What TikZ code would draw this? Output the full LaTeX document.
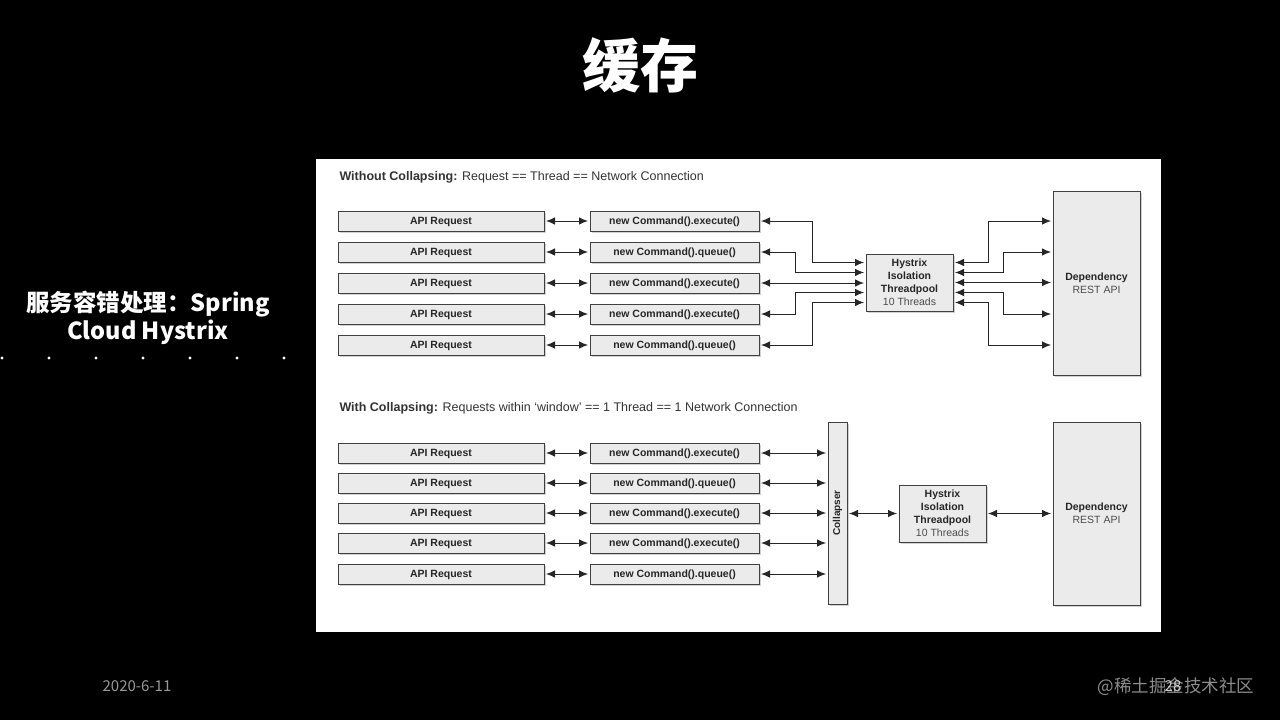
\documentclass[tikz,border=0pt]{standalone}
\usepackage{fontspec}
\setmainfont{Liberation Sans}
\newfontfamily\cjk{Noto Sans CJK SC}
\usetikzlibrary{arrows.meta,shadows}

\tikzset{
  box/.style={draw=black!75, fill=black!8, line width=1pt, inner sep=0pt,
    drop shadow={shadow xshift=1.5pt, shadow yshift=-2pt, opacity=0.35},
    font=\fontsize{10.5}{13}\selectfont\bfseries, text=black!85, align=center},
  req/.style={box, minimum width=206pt, minimum height=20pt, text height=7.5pt, text depth=0.5pt},
  cmd/.style={box, minimum width=169pt, minimum height=20pt, text height=7.5pt, text depth=0.5pt},
  pool/.style={box, minimum width=87pt, minimum height=57pt},
  link/.style={<->, >={Latex[length=9pt,width=7.5pt]}, line width=0.9pt, black!85,
    shorten <=1.5pt, shorten >=1.5pt},
  head/.style={anchor=west, font=\fontsize{12.5}{15}\selectfont, text=black!80},
}

\begin{document}
\begin{tikzpicture}[x=1pt,y=-1pt]
  \fill [black] (0,0) rectangle (1280,720);
  \useasboundingbox (0,0) rectangle (1280,720);
  \fill [white] (316,159) rectangle (1161,632);

  % slide texts
  \node [text=white, font=\cjk\bfseries\fontsize{58}{58}\selectfont] (title) at (640,65) {缓存};
  \node [text=white, align=center, font=\cjk\bfseries\fontsize{23.5}{28}\selectfont] (topic) at (148,318)
    {服务容错处理：Spring\\Cloud Hystrix};
  \foreach \x in {2,49,96,143,190,237,284}
    \fill [white] (\x,358) circle (1.6);
  \node [text=white!60!black, font=\cjk\fontsize{15}{15}\selectfont] (date) at (137,686) {2020-6-11};
  \node [anchor=east, text=white!55!black, font=\cjk\fontsize{17.5}{18}\selectfont] (site) at (1258,687) {@稀土掘金技术社区};
  \node [text=white!80!black, font=\cjk\fontsize{15}{15}\selectfont] (page) at (1173,686) {28};

  % without collapsing
  \node [head] (head1) at (336,177) {\textbf{Without Collapsing:} Request == Thread == Network Connection};
  \node [req] (req1) at (441,221) {API Request};
  \node [req] (req2) at (441,252) {API Request};
  \node [req] (req3) at (441,283) {API Request};
  \node [req] (req4) at (441,314) {API Request};
  \node [req] (req5) at (441,345) {API Request};
  \node [cmd] (cmd1) at (674.5,221) {new Command().execute()};
  \node [cmd] (cmd2) at (674.5,252) {new Command().queue()};
  \node [cmd] (cmd3) at (674.5,283) {new Command().execute()};
  \node [cmd] (cmd4) at (674.5,314) {new Command().execute()};
  \node [cmd] (cmd5) at (674.5,345) {new Command().queue()};
  \node [pool] (pool) at (909.5,282.5) {Hystrix\\Isolation\\Threadpool\\{\mdseries\color{black!70}10 Threads}};
  \node [box, minimum width=87pt, minimum height=184pt] (dep) at (1096.5,283)
    {Dependency\\{\mdseries\color{black!70}REST API}};

  \draw [link] (req1) -- (cmd1);
  \draw [link] (req2) -- (cmd2);
  \draw [link] (req3) -- (cmd3);
  \draw [link] (req4) -- (cmd4);
  \draw [link] (req5) -- (cmd5);
  \draw [link] (cmd1.east) -- ++(53,0) |- ([yshift=20pt]pool.west);
  \draw [link] (cmd2.east) -- ++(36,0) |- ([yshift=10pt]pool.west);
  \draw [link] (cmd3.east) -- (cmd3.east -| pool.west);
  \draw [link] (cmd4.east) -- ++(36,0) |- ([yshift=-10pt]pool.west);
  \draw [link] (cmd5.east) -- ++(53,0) |- ([yshift=-20pt]pool.west);
  \draw [link] ([yshift=20pt]pool.east) -- ++(35,0) |- (dep.west |- cmd1);
  \draw [link] ([yshift=10pt]pool.east) -- ++(50,0) |- (dep.west |- cmd2);
  \draw [link] (pool.east) -- (dep.west |- pool.east);
  \draw [link] ([yshift=-10pt]pool.east) -- ++(50,0) |- (dep.west |- cmd4);
  \draw [link] ([yshift=-20pt]pool.east) -- ++(35,0) |- (dep.west |- cmd5);

  % with collapsing
  \node [head] (head2) at (336,408) {\textbf{With Collapsing:} Requests within `window' == 1 Thread == 1 Network Connection};
  \node [req] (creq1) at (441,453) {API Request};
  \node [req] (creq2) at (441,483) {API Request};
  \node [req] (creq3) at (441,513) {API Request};
  \node [req] (creq4) at (441,543) {API Request};
  \node [req] (creq5) at (441,574) {API Request};
  \node [cmd] (ccmd1) at (674.5,453) {new Command().execute()};
  \node [cmd] (ccmd2) at (674.5,483) {new Command().queue()};
  \node [cmd] (ccmd3) at (674.5,513) {new Command().execute()};
  \node [cmd] (ccmd4) at (674.5,543) {new Command().execute()};
  \node [cmd] (ccmd5) at (674.5,574) {new Command().queue()};
  \node [box, minimum width=19pt, minimum height=182pt,
    label={[rotate=90, font=\fontsize{10}{12}\selectfont\bfseries, text=black!85]center:Collapser}]
    (collapser) at (837.5,513) {};
  \node [pool] (cpool) at (942.5,513.5) {Hystrix\\Isolation\\Threadpool\\{\mdseries\color{black!70}10 Threads}};
  \node [box, minimum width=87pt, minimum height=183pt] (cdep) at (1096.5,513.5)
    {Dependency\\{\mdseries\color{black!70}REST API}};

  \draw [link] (creq1) -- (ccmd1);
  \draw [link] (creq2) -- (ccmd2);
  \draw [link] (creq3) -- (ccmd3);
  \draw [link] (creq4) -- (ccmd4);
  \draw [link] (creq5) -- (ccmd5);
  \draw [link] (ccmd1.east) -- (ccmd1.east -| collapser.west);
  \draw [link] (ccmd2.east) -- (ccmd2.east -| collapser.west);
  \draw [link] (ccmd3.east) -- (ccmd3.east -| collapser.west);
  \draw [link] (ccmd4.east) -- (ccmd4.east -| collapser.west);
  \draw [link] (ccmd5.east) -- (ccmd5.east -| collapser.west);
  \draw [link] (collapser.east |- cpool) -- (cpool.west);
  \draw [link] (cpool.east) -- (cdep.west |- cpool.east);
\end{tikzpicture}
\end{document}
